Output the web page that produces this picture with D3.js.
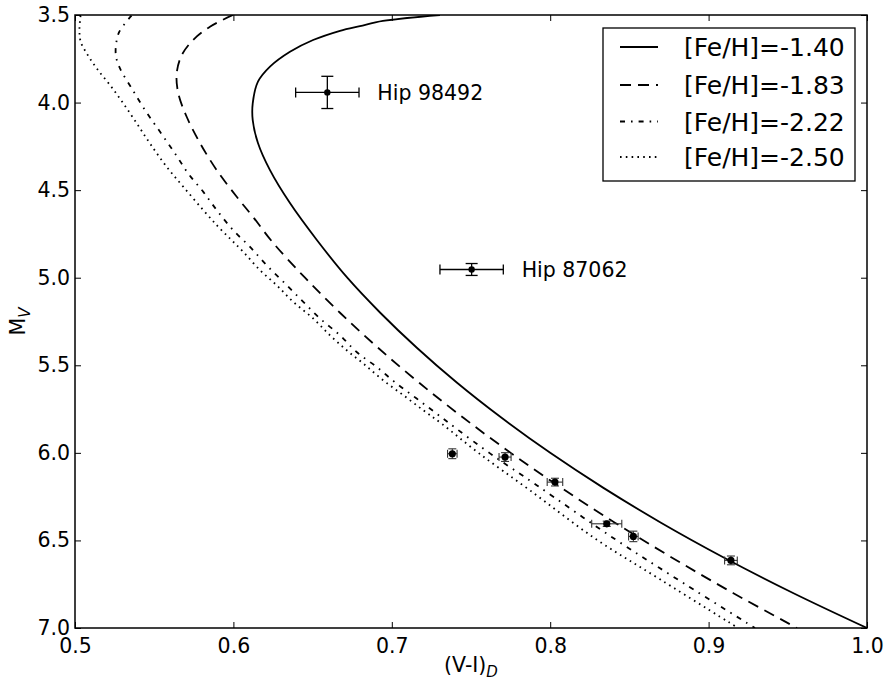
<!DOCTYPE html>
<html>
<head>
<meta charset="utf-8">
<script src="https://cdn.jsdelivr.net/npm/d3@7"></script>
<style>
  html, body { margin: 0; padding: 0; background: #fff; }
  svg { display: block; font-family: "DejaVu Sans", sans-serif; }
</style>
</head>
<body>
<svg id="chart" width="888" height="682"></svg>
<script>
// ---------------- data ----------------
const xTicks = [0.5, 0.6, 0.7, 0.8, 0.9, 1.0];
const yTicks = [3.5, 4.0, 4.5, 5.0, 5.5, 6.0, 6.5, 7.0];
const seriesNames = ["[Fe/H]=-1.40", "[Fe/H]=-1.83", "[Fe/H]=-2.22", "[Fe/H]=-2.50"];

// isochrones: [ (V-I)_D , M_V ]
const iso140 = [
  [0.7304,3.500],[0.6944,3.534],[0.6799,3.563],[0.6673,3.590],[0.6503,3.643],[0.6357,3.710],
  [0.6231,3.795],[0.6155,3.881],[0.6122,4.005],[0.6122,4.100],[0.6155,4.231],[0.6231,4.386],
  [0.6357,4.574],[0.6528,4.786],[0.6719,5.000],[0.6927,5.200],[0.7158,5.400],[0.7412,5.600],
  [0.7693,5.800],[0.8000,6.000],[0.8336,6.200],[0.8702,6.400],[0.9101,6.600],[0.9533,6.800],
  [1.0000,7.000]
];
const iso183 = [
  [0.5997,3.500],[0.5852,3.567],[0.5745,3.643],[0.5674,3.729],[0.5642,3.833],[0.5652,3.947],
  [0.5705,4.081],[0.5789,4.231],[0.5895,4.386],[0.6021,4.538],[0.6124,4.653],[0.6250,4.800],
  [0.6452,5.000],[0.6673,5.200],[0.6913,5.400],[0.7173,5.600],[0.7452,5.800],[0.7751,6.000],
  [0.8071,6.200],[0.8411,6.400],[0.8772,6.600],[0.9154,6.800],[0.9558,7.000]
];
const iso222 = [
  [0.5357,3.503],[0.5280,3.595],[0.5259,3.671],[0.5259,3.738],[0.5284,3.805],[0.5358,3.919],
  [0.5442,4.043],[0.5537,4.167],[0.5631,4.290],[0.5715,4.405],[0.5810,4.510],[0.5895,4.614],
  [0.5999,4.729],[0.6105,4.824],[0.6210,4.929],[0.6326,5.033],[0.6441,5.138],[0.6547,5.233],
  [0.6673,5.329],[0.6778,5.424],[0.6905,5.510],[0.7031,5.605],[0.7157,5.690],[0.7283,5.776],
  [0.7405,5.860],[0.7620,6.003],[0.7917,6.186],[0.8403,6.489],[0.8845,6.746],[0.9293,7.000]
];
const iso250 = [
  [0.5035,3.503],[0.5028,3.586],[0.5036,3.653],[0.5074,3.719],[0.5137,3.805],[0.5221,3.900],
  [0.5305,4.005],[0.5390,4.119],[0.5473,4.233],[0.5579,4.367],[0.5684,4.481],[0.5810,4.614],
  [0.5905,4.710],[0.5989,4.786],[0.6063,4.853],[0.6168,4.957],[0.6273,5.043],[0.6378,5.138],
  [0.6504,5.233],[0.6610,5.329],[0.6715,5.414],[0.6820,5.490],[0.6946,5.586],[0.7073,5.671],
  [0.7199,5.757],[0.7311,5.831],[0.7551,6.003],[0.7872,6.214],[0.8283,6.489],[0.8706,6.729],
  [0.9186,7.000]
];

// named stars: [V-I, M_V, xerr, yerr]
const hipNames = ["Hip 98492", "Hip 87062"];
const hipData = [
  [0.6593, 3.942, 0.020, 0.092],
  [0.7504, 4.953, 0.020, 0.034]
];
// other stars: [V-I, M_V, xerr, yerr]
const starData = [
  [0.7382, 6.005, 0.0030, 0.028],
  [0.7715, 6.024, 0.0038, 0.025],
  [0.8030, 6.167, 0.0049, 0.022],
  [0.8357, 6.405, 0.0095, 0.015],
  [0.8525, 6.477, 0.0030, 0.030],
  [0.9141, 6.614, 0.0040, 0.025]
];

// ---------------- drawing ----------------
const svg = d3.select("#chart");
const L = 75, R = 867, T = 15, B = 628;
const x = d3.scaleLinear().domain([0.5, 1.0]).range([L, R]);
const y = d3.scaleLinear().domain([3.5, 7.0]).range([T, B]);

const defs = svg.append("defs");
defs.append("clipPath").attr("id", "clip")
  .append("rect").attr("x", L).attr("y", T).attr("width", R - L).attr("height", B - T);

const styles = [
  { dash: null },
  { dash: "11,7" },
  { dash: "5,6,1.6,6" },
  { dash: "1.6,4.2" }
];
const isos = [iso140, iso183, iso222, iso250];

const line = d3.line().x(d => x(d[0])).y(d => y(d[1])).curve(d3.curveCatmullRom.alpha(0.5));

const plot = svg.append("g").attr("clip-path", "url(#clip)");
isos.forEach((iso, i) => {
  plot.append("path")
    .attr("d", line(iso))
    .attr("fill", "none")
    .attr("stroke", "#000")
    .attr("stroke-width", 1.8)
    .attr("stroke-dasharray", styles[i].dash);
});

// error bars helper
function errbar(g, d, capX, capY, color, w, r) {
  const cx = x(d[0]), cy = y(d[1]);
  const x0 = x(d[0] - d[2]), x1 = x(d[0] + d[2]);
  const y0 = y(d[1] - d[3]), y1 = y(d[1] + d[3]);
  const s = g.append("g").attr("stroke", color).attr("stroke-width", w).attr("fill", "none");
  s.append("line").attr("x1", x0).attr("x2", x1).attr("y1", cy).attr("y2", cy);
  s.append("line").attr("x1", cx).attr("x2", cx).attr("y1", y0).attr("y2", y1);
  s.append("line").attr("x1", x0).attr("x2", x0).attr("y1", cy - capX).attr("y2", cy + capX);
  s.append("line").attr("x1", x1).attr("x2", x1).attr("y1", cy - capX).attr("y2", cy + capX);
  s.append("line").attr("x1", cx - capY).attr("x2", cx + capY).attr("y1", y0).attr("y2", y0);
  s.append("line").attr("x1", cx - capY).attr("x2", cx + capY).attr("y1", y1).attr("y2", y1);
  g.append("circle").attr("cx", cx).attr("cy", cy).attr("r", r).attr("fill", "#000");
}

const pts = svg.append("g");
starData.forEach(d => errbar(pts, d, 4, 4, "#333", 1.1, 3.6));
hipData.forEach((d, i) => {
  errbar(pts, d, 5, 6, "#000", 1.3, 3.2);
  pts.append("text")
    .attr("x", x(d[0]) + 50)
    .attr("y", y(d[1]))
    .attr("dy", "0.36em")
    .attr("font-size", 20.5)
    .attr("fill", "#000")
    .text(hipNames[i]);
});

// axes
const tick = 6;
const gx = svg.append("g").attr("transform", `translate(0,${B})`)
  .call(d3.axisBottom(x).tickValues(xTicks).tickSizeInner(-tick).tickSizeOuter(0).tickPadding(10).tickFormat(d3.format(".1f")));
const gxt = svg.append("g").attr("transform", `translate(0,${T})`)
  .call(d3.axisTop(x).tickValues(xTicks).tickSizeInner(-tick).tickSizeOuter(0).tickFormat(""));
const gy = svg.append("g").attr("transform", `translate(${L},0)`)
  .call(d3.axisLeft(y).tickValues(yTicks).tickSizeInner(-tick).tickSizeOuter(0).tickPadding(5).tickFormat(d3.format(".1f")));
const gyr = svg.append("g").attr("transform", `translate(${R},0)`)
  .call(d3.axisRight(y).tickValues(yTicks).tickSizeInner(-tick).tickSizeOuter(0).tickFormat(""));
[gx, gxt, gy, gyr].forEach(g => {
  g.select(".domain").remove();
  g.selectAll(".tick line").attr("stroke", "#000").attr("stroke-width", 1);
  g.selectAll(".tick text").attr("font-size", 20.5).attr("fill", "#000")
    .attr("font-family", "DejaVu Sans, sans-serif");
});

// frame
svg.append("rect").attr("x", L).attr("y", T).attr("width", R - L).attr("height", B - T)
  .attr("fill", "none").attr("stroke", "#000").attr("stroke-width", 1.5);

// axis labels
const xl = svg.append("text").attr("x", (L + R) / 2).attr("y", 672)
  .attr("text-anchor", "middle").attr("font-size", 20.5).attr("fill", "#000");
xl.append("tspan").text("(V-I)");
xl.append("tspan").attr("font-size", 15).attr("font-style", "italic").attr("dy", 5).text("D");

const yl = svg.append("text")
  .attr("transform", `translate(25,${(T + B) / 2}) rotate(-90)`)
  .attr("text-anchor", "middle").attr("font-size", 20.5).attr("fill", "#000");
yl.append("tspan").text("M");
yl.append("tspan").attr("font-size", 15).attr("font-style", "italic").attr("dy", 5).text("V");

// legend
const lg = svg.append("g");
lg.append("rect").attr("x", 603).attr("y", 28).attr("width", 252).attr("height", 153)
  .attr("fill", "#fff").attr("stroke", "#000").attr("stroke-width", 1.3);
const rowY = [47, 85, 121.5, 157];
seriesNames.forEach((name, i) => {
  lg.append("line").attr("x1", 620).attr("x2", 658).attr("y1", rowY[i]).attr("y2", rowY[i])
    .attr("stroke", "#000").attr("stroke-width", 1.8).attr("stroke-dasharray", styles[i].dash);
  lg.append("text").attr("x", 684).attr("y", rowY[i]).attr("dy", "0.36em")
    .attr("font-size", 25).attr("fill", "#000").text(name);
});
</script>
</body>
</html>
